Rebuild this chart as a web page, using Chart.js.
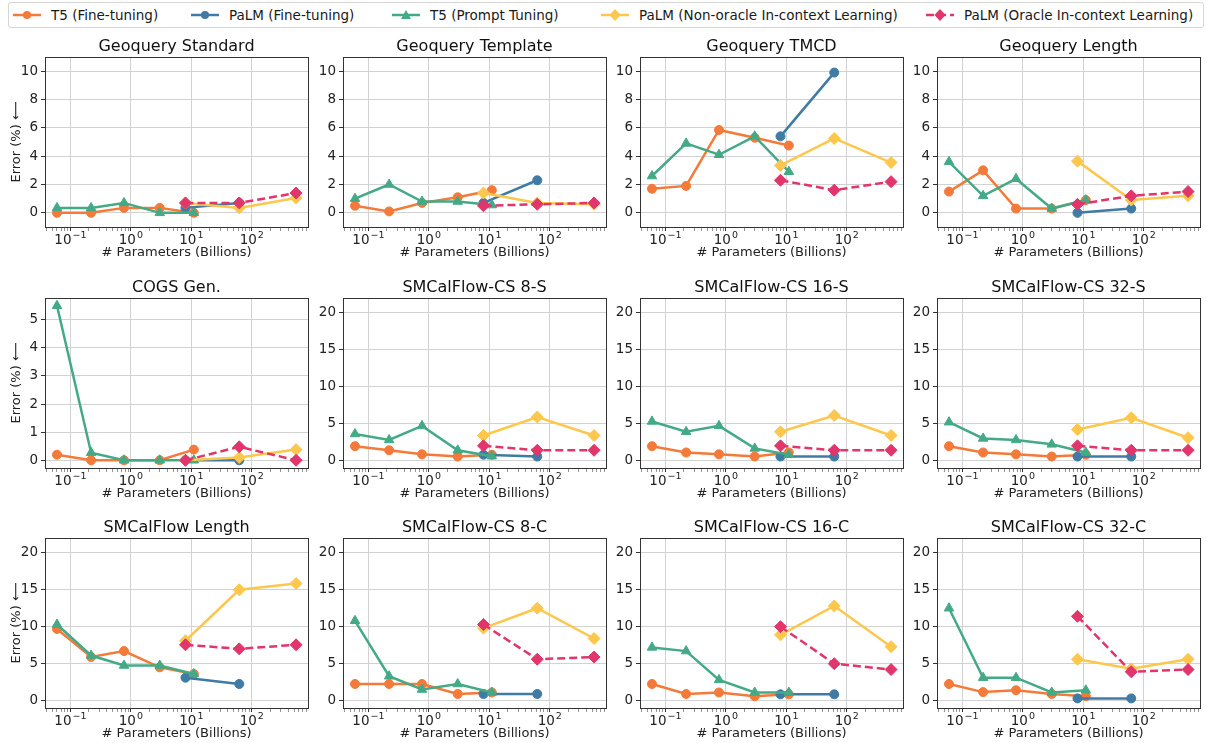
<!DOCTYPE html>
<html>
<head>
<meta charset="utf-8">
<script src="https://cdn.jsdelivr.net/npm/chart.js@4"></script>
<style>
  body { margin: 0; background: #fff; width: 1207px; height: 743px; position: relative; overflow: hidden; font-family: "DejaVu Sans", sans-serif; }
  canvas { position: absolute; }
  #legend { position: absolute; left: 8px; top: 2px; width: 1196px; height: 26px; border: 1px solid #d6d6d6; border-radius: 3px; box-sizing: border-box; }
  .item { position: absolute; top: 0; height: 24px; font-size: 13.5px; color: #1a1a1a; white-space: nowrap; }
  .item svg { position: absolute; left: 0; top: 5px; }
  .item span { position: absolute; top: 4px; }
</style>
</head>
<body>
<div id="legend"></div>
<script>
const panelTitles = ['Geoquery Standard', 'Geoquery Template', 'Geoquery TMCD', 'Geoquery Length',
  'COGS Gen.', 'SMCalFlow-CS 8-S', 'SMCalFlow-CS 16-S', 'SMCalFlow-CS 32-S',
  'SMCalFlow Length', 'SMCalFlow-CS 8-C', 'SMCalFlow-CS 16-C', 'SMCalFlow-CS 32-C'];

const seriesNames = ['T5 (Fine-tuning)', 'PaLM (Fine-tuning)', 'T5 (Prompt Tuning)',
  'PaLM (Non-oracle In-context Learning)', 'PaLM (Oracle In-context Learning)'];

// model sizes, billions of parameters
const t5Sizes = [0.06, 0.22, 0.77, 3, 11];
const palmFtSizes = [8, 62];
const palmSizes = [8, 62, 540];

// error (%) per panel, same order as panelTitles
const t5FineTuning = [
  [0, 0, 0.35, 0.35, 0], [0.5, 0.1, 0.7, 1.1, 1.6], [1.7, 1.9, 5.85, 5.3, 4.75], [1.5, 3.0, 0.3, 0.3, 0.9],
  [0.2, 0, 0, 0, 0.38], [1.95, 1.4, 0.85, 0.55, 0.8], [1.95, 1.1, 0.85, 0.55, 1.1], [1.95, 1.1, 0.85, 0.55, 0.8],
  [9.7, 5.9, 6.7, 4.5, 3.6], [2.25, 2.25, 2.25, 0.9, 1.1], [2.25, 0.9, 1.1, 0.6, 0.85], [2.25, 1.15, 1.4, 0.9, 0.6]
];
const palmFineTuning = [
  [0.35, 0.7], [0.7, 2.3], [5.4, 9.9], [0, 0.3],
  [0, 0], [0.8, 0.55], [0.55, 0.55], [0.55, 0.55],
  [3.1, 2.25], [0.9, 0.9], [0.85, 0.85], [0.3, 0.3]
];
const t5PromptTuning = [
  [0.35, 0.35, 0.7, 0, 0], [1.0, 2.0, 0.8, 0.8, 0.55], [2.6, 4.9, 4.1, 5.4, 2.9], [3.6, 1.2, 2.4, 0.3, 0.9],
  [5.5, 0.27, 0, 0, 0], [3.6, 2.8, 4.7, 1.4, 0.6], [5.3, 3.9, 4.7, 1.65, 0.8], [5.2, 3.0, 2.8, 2.2, 1.1],
  [10.3, 6.1, 4.75, 4.75, 3.6], [10.8, 3.3, 1.5, 2.25, 1.1], [7.2, 6.7, 2.8, 1.1, 1.1], [12.5, 3.1, 3.1, 1.1, 1.4]
];
const palmNonOracle = [
  [0.7, 0.35, 1.05], [1.4, 0.7, 0.6], [3.35, 5.25, 3.55], [3.65, 0.9, 1.2],
  [0, 0.1, 0.38], [3.4, 5.9, 3.4], [3.9, 6.1, 3.4], [4.2, 5.8, 3.1],
  [8.1, 15.0, 15.85], [9.8, 12.5, 8.4], [8.9, 12.8, 7.3], [5.6, 4.3, 5.6]
];
const palmOracle = [
  [0.7, 0.7, 1.4], [0.5, 0.6, 0.7], [2.3, 1.6, 2.2], [0.6, 1.2, 1.5],
  [0, 0.48, 0], [2.0, 1.4, 1.4], [2.0, 1.4, 1.4], [2.0, 1.4, 1.4],
  [7.55, 7.0, 7.55], [10.3, 5.6, 5.9], [10.0, 5.0, 4.2], [11.4, 3.9, 4.2]
];

const geoTicks = [0, 2, 4, 6, 8, 10];
const cogsTicks = [0, 1, 2, 3, 4, 5];
const smcTicks = [0, 5, 10, 15, 20];
const xMajorTicks = [0.1, 1, 10, 100];
const xExponents = ['\u22121', '0', '1', '2'];

const colors = ['#F47A3A', '#3F7BA4', '#44AA86', '#FDC74E', '#E1356B'];
const markers = ['circle', 'circle', 'triangle', 'rectRot', 'rectRot'];
const markerSize = [4.5, 4.5, 5.5, 6, 6];

const colLeft = [45, 343, 640, 937], rowTop = [57, 298, 538];
const plotW = 264, plotH = 170;
const FONT = '"DejaVu Sans"';

function yRange(i) {
  if (i < 4) return { min: -1, max: 11, ticks: geoTicks };
  if (i === 4) return { min: -0.275, max: 5.775, ticks: cogsTicks };
  return { min: -1, max: 22, ticks: smcTicks };
}

function xMinorTicks() {
  const out = [];
  [0.01, 0.1, 1, 10, 100].forEach(d => { for (let k = 2; k <= 9; k++) out.push(+(d * k).toPrecision(3)); });
  return out.filter(v => v > 0.038 && v < 850);
}

// box around the axes, title centred on the axes, 10^k tick labels
const decor = {
  id: 'decor',
  afterDraw(chart, args, opts) {
    const { ctx, chartArea: a } = chart;
    const x = chart.scales.x;
    ctx.save();
    ctx.strokeStyle = '#333';
    ctx.lineWidth = 1;
    ctx.strokeRect(Math.round(a.left) + 0.5, Math.round(a.top) + 0.5, Math.round(a.right - a.left), Math.round(a.bottom - a.top));

    ctx.fillStyle = '#111';
    ctx.textAlign = 'center';
    ctx.textBaseline = 'middle';
    ctx.font = '16px ' + FONT;
    ctx.fillText(opts.title, (a.left + a.right) / 2, a.top - 10.5);

    ctx.fillStyle = '#222';
    ctx.textAlign = 'left';
    ctx.textBaseline = 'alphabetic';
    const base = a.bottom + 17;
    xMajorTicks.forEach((v, k) => {
      const px = x.getPixelForValue(v);
      ctx.font = '13.5px ' + FONT;
      const wb = ctx.measureText('10').width;
      ctx.font = '9.5px ' + FONT;
      const we = ctx.measureText(xExponents[k]).width;
      const left = px - (wb + we + 1) / 2;
      ctx.font = '13.5px ' + FONT;
      ctx.fillText('10', left, base);
      ctx.font = '9.5px ' + FONT;
      ctx.fillText(xExponents[k], left + wb + 1, base - 6);
    });
    ctx.restore();
  }
};

function makePanel(i) {
  const row = Math.floor(i / 4), col = i % 4;
  const yw = col === 0 ? 45 : 40;
  const W = yw + plotW + 6, H = 30 + plotH + 40;
  const cv = document.createElement('canvas');
  cv.width = W; cv.height = H;
  cv.style.left = (colLeft[col] - yw) + 'px';
  cv.style.top = (rowTop[row] - 30) + 'px';
  document.body.appendChild(cv);

  const xs = [t5Sizes, palmFtSizes, t5Sizes, palmSizes, palmSizes];
  const ys = [t5FineTuning[i], palmFineTuning[i], t5PromptTuning[i], palmNonOracle[i], palmOracle[i]];
  const datasets = ys.map((vals, s) => ({
    label: seriesNames[s],
    data: vals.map((v, k) => ({ x: xs[s][k], y: v })),
    borderColor: colors[s],
    backgroundColor: colors[s],
    borderWidth: 2.5,
    borderDash: s === 4 ? [8, 4] : [],
    pointStyle: markers[s],
    pointRadius: markerSize[s],
    pointBorderWidth: 1,
    pointHoverRadius: markerSize[s],
    order: 4 - s
  }));

  const yr = yRange(i);
  const minors = xMinorTicks();
  const majorSet = new Set(xMajorTicks);

  new Chart(cv, {
    type: 'line',
    data: { datasets },
    plugins: [decor],
    options: {
      responsive: false,
      devicePixelRatio: 1,
      animation: false,
      layout: { padding: { left: 0, right: 6, top: 30, bottom: 4 } },
      plugins: {
        legend: { display: false },
        tooltip: { enabled: false },
        title: { display: false },
        decor: { title: panelTitles[i] }
      },
      scales: {
        x: {
          type: 'logarithmic', min: 0.038, max: 850,
          afterBuildTicks: s => { s.ticks = xMajorTicks.concat(minors).sort((a, b) => a - b).map(v => ({ value: v })); },
          afterFit: s => { s.height = 36; },
          border: { display: false },
          grid: {
            color: c => majorSet.has(c.tick && c.tick.value) ? '#d2d2d2' : 'transparent',
            tickColor: c => majorSet.has(c.tick && c.tick.value) ? '#333' : '#666',
            tickWidth: c => majorSet.has(c.tick && c.tick.value) ? 1 : 0.7,
            tickLength: 4, lineWidth: 1
          },
          ticks: { autoSkip: false, maxRotation: 0, callback: () => '' },
          title: {
            display: true, text: '# Parameters (Billions)', color: '#222',
            font: { family: 'DejaVu Sans', size: 13 }, padding: { top: 0, bottom: 2.5 }
          }
        },
        y: {
          min: yr.min, max: yr.max,
          afterBuildTicks: s => { s.ticks = yr.ticks.map(v => ({ value: v })); },
          afterFit: s => { s.width = yw; },
          border: { display: false },
          grid: { color: '#d2d2d2', tickColor: '#333', tickLength: 4, lineWidth: 1 },
          ticks: { padding: 3, color: '#222', font: { family: 'DejaVu Sans', size: 13.5 } },
          title: {
            display: col === 0, text: 'Error (%) ⟵', color: '#222',
            font: { family: 'DejaVu Sans', size: 13 }, padding: { top: 9, bottom: 0 }
          }
        }
      }
    }
  });
}

panelTitles.forEach((_, i) => makePanel(i));

// shared legend across the top
const legendLineX = [4, 182, 383, 592, 917];
const legend = document.getElementById('legend');
seriesNames.forEach((name, s) => {
  const it = document.createElement('div');
  it.className = 'item';
  it.style.left = legendLineX[s] + 'px';
  const c = colors[s];
  let mk;
  if (markers[s] === 'circle') mk = `<circle cx="14" cy="7" r="4" fill="${c}"/>`;
  else if (markers[s] === 'triangle') mk = `<polygon points="14,2 19,11 9,11" fill="${c}"/>`;
  else mk = `<polygon points="14,1 19.5,7 14,13 8.5,7" fill="${c}"/>`;
  const dash = s === 4 ? ' stroke-dasharray="8 4"' : '';
  it.innerHTML = `<svg width="28" height="14"><line x1="0" y1="7" x2="28" y2="7" stroke="${c}" stroke-width="2.5"${dash}/>${mk}</svg><span style="left:38px">${name}</span>`;
  legend.appendChild(it);
});
</script>
</body>
</html>
